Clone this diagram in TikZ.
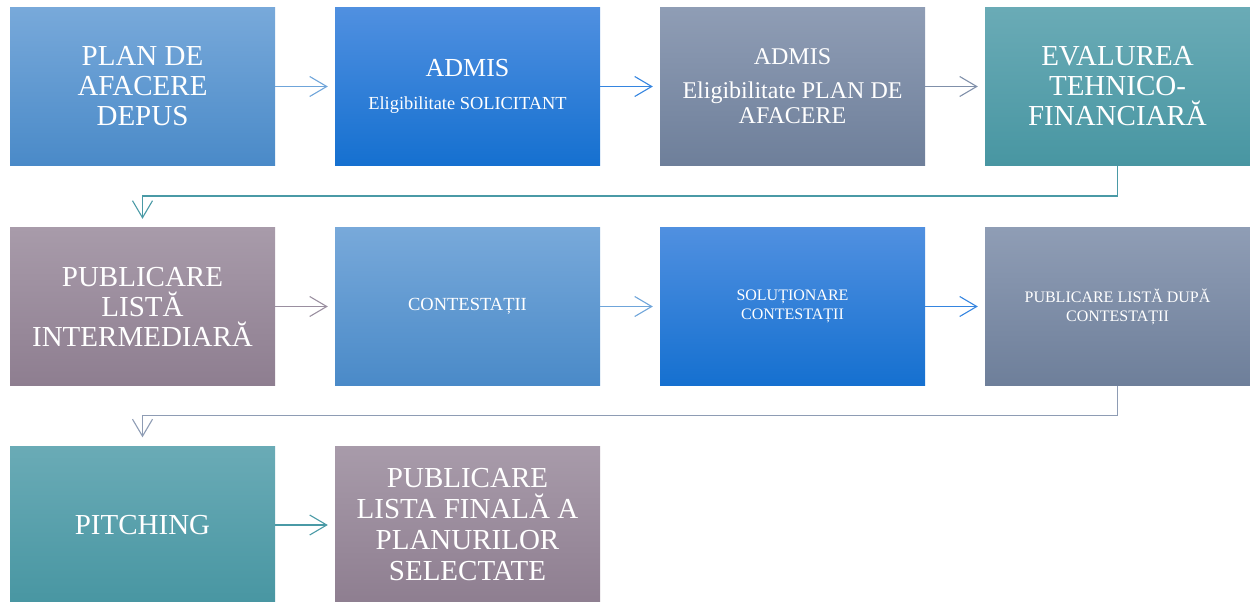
\documentclass[tikz,border=0pt]{standalone}
\usepackage{fontspec}
\setmainfont{Liberation Serif}
\usetikzlibrary{arrows.meta}
\definecolor{lbT}{HTML}{78A9DA}\definecolor{lbB}{HTML}{4A8AC8}
\definecolor{bbT}{HTML}{5090E0}\definecolor{bbB}{HTML}{1570D0}
\definecolor{gbT}{HTML}{8F9DB5}\definecolor{gbB}{HTML}{6E7F9A}
\definecolor{tlT}{HTML}{6AABB6}\definecolor{tlB}{HTML}{4896A2}
\definecolor{mvT}{HTML}{A89BAA}\definecolor{mvB}{HTML}{8E7E90}
\definecolor{cLB}{HTML}{6FA5DA}\definecolor{cBB}{HTML}{3585E0}
\definecolor{cGB}{HTML}{8090AA}\definecolor{cTL}{HTML}{4A9AA6}
\definecolor{cMV}{HTML}{9A8FA0}\definecolor{cGL}{HTML}{8E9CB4}
\begin{document}
\begin{tikzpicture}[x=1pt,y=-1pt,
  box/.style={minimum width=265pt, minimum height=158pt, inner sep=0pt, text=white, align=center},
  lightblue/.style={box, top color=lbT, bottom color=lbB},
  deepblue/.style={box, top color=bbT, bottom color=bbB},
  greyblue/.style={box, top color=gbT, bottom color=gbB},
  tealbox/.style={box, top color=tlT, bottom color=tlB},
  mauvebox/.style={box, top color=mvT, bottom color=mvB},
  big/.style={font=\fontsize{29}{30}\selectfont},
  small/.style={font=\fontsize{16}{19}\selectfont},
  conn/.style={line width=1.1pt, shorten >=7pt, -{Straight Barb[length=17pt,width=20pt,line width=1.1pt]}},
  elbow/.style={line width=1.1pt, shorten >=8.5pt, -{Straight Barb[length=17pt,width=20pt,line width=1.1pt]}}
]
\useasboundingbox (0,0) rectangle (1250,602);
% row 1
\node[lightblue, big] (b1) at (142.5,86.5) {PLAN DE\\AFACERE\\DEPUS};
\node[deepblue] (b2) at (467.5,86.5) {{\fontsize{26}{30}\selectfont ADMIS}\\[19pt]{\fontsize{18.4}{22}\selectfont Eligibilitate SOLICITANT}};
\node[greyblue, font=\fontsize{24}{25}\selectfont] (b3) at (792.5,86.5) {ADMIS\\[9pt]Eligibilitate PLAN DE\\AFACERE};
\node[tealbox, big] (b4) at (1117.5,86.5) {EVALUREA\\TEHNICO-\\FINANCIARĂ};
% row 2
\node[mauvebox, big] (b5) at (142.5,306.5) {PUBLICARE\\LISTĂ\\INTERMEDIARĂ};
\node[lightblue, font=\fontsize{18.5}{22}\selectfont] (b6) at (467.5,306.5) {CONTESTAȚII};
\node[deepblue, small] (b7) at (792.5,306.5) {SOLUȚIONARE\\CONTESTAȚII};
\node[greyblue, small] (b8) at (1117.5,306.5) {PUBLICARE LISTĂ DUPĂ\\CONTESTAȚII};
% row 3
\node[tealbox, big] (b9) at (142.5,525) {PITCHING};
\node[mauvebox, font=\fontsize{29}{31}\selectfont] (b10) at (467.5,525) {PUBLICARE\\LISTA FINALĂ A\\PLANURILOR\\SELECTATE};
% junctions
\coordinate (j1) at (1117.5,196);
\coordinate (j2) at (1117.5,415.5);
% connectors
\draw[conn, cLB] (b1) -- (b2);
\draw[conn, cBB] (b2) -- (b3);
\draw[conn, cGB] (b3) -- (b4);
\draw[elbow, cTL] (b4.south) -- (j1) -| (b5.north);
\draw[conn, cMV] (b5) -- (b6);
\draw[conn, cLB] (b6) -- (b7);
\draw[conn, cBB] (b7) -- (b8);
\draw[elbow, cGL] (b8.south) -- (j2) -| (b9.north);
\draw[conn, cTL] (b9) -- (b10);
\end{tikzpicture}
\end{document}
